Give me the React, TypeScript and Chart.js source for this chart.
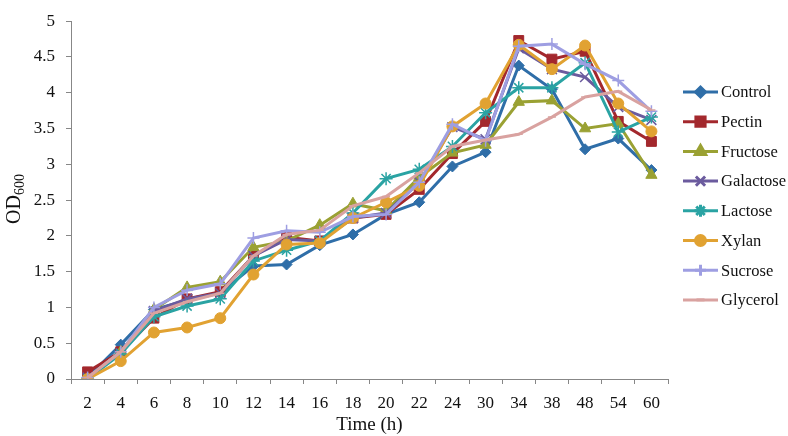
import { useEffect, useRef } from 'react';
import { Chart, registerables } from 'chart.js';
import { drawPoint } from 'chart.js/helpers';

Chart.register(...registerables);

const timeLabels = ['2', '4', '6', '8', '10', '12', '14', '16', '18', '20', '22', '24', '30', '34', '38', '48', '54', '60'];

const control = [0.02, 0.48, 0.97, 1.1, 1.2, 1.58, 1.6, 1.87, 2.02, 2.3, 2.47, 2.97, 3.17, 4.38, 4.05, 3.21, 3.36, 2.92];
const pectin = [0.1, 0.38, 0.85, 1.12, 1.22, 1.72, 1.98, 1.93, 2.25, 2.3, 2.65, 3.15, 3.6, 4.73, 4.47, 4.58, 3.6, 3.32];
const fructose = [0.0, 0.38, 0.97, 1.28, 1.36, 1.84, 1.93, 2.15, 2.45, 2.35, 2.82, 3.16, 3.27, 3.87, 3.89, 3.5, 3.57, 2.85];
const galactose = [0.02, 0.36, 0.95, 1.12, 1.2, 1.72, 1.95, 1.93, 2.25, 2.32, 2.75, 3.52, 3.35, 4.62, 4.33, 4.22, 3.8, 3.62];
const lactose = [0.0, 0.35, 0.87, 1.02, 1.12, 1.65, 1.8, 1.93, 2.32, 2.8, 2.93, 3.25, 3.72, 4.07, 4.07, 4.42, 3.45, 3.66];
const xylan = [0.0, 0.25, 0.65, 0.72, 0.85, 1.46, 1.88, 1.9, 2.25, 2.47, 2.7, 3.53, 3.85, 4.67, 4.33, 4.66, 3.85, 3.46];
const sucrose = [0.02, 0.38, 1.0, 1.24, 1.33, 1.97, 2.07, 2.05, 2.27, 2.3, 2.75, 3.56, 3.33, 4.65, 4.68, 4.4, 4.17, 3.74];
const glycerol = [0.02, 0.38, 0.92, 1.08, 1.2, 1.72, 2.02, 2.08, 2.42, 2.55, 2.88, 3.25, 3.34, 3.42, 3.66, 3.94, 4.02, 3.76];

const seriesNames = ['Control', 'Pectin', 'Fructose', 'Galactose', 'Lactose', 'Xylan', 'Sucrose', 'Glycerol'];
const seriesData = [control, pectin, fructose, galactose, lactose, xylan, sucrose, glycerol];
const seriesColors = ['#2F6EA8', '#A3282D', '#9AA133', '#6B5B9E', '#2AA3A3', '#E1A232', '#9E9EE2', '#D9A2A0'];
const seriesMarkers = ['rectRot', 'rect', 'triangle', 'crossRot', 'star', 'circle', 'cross', 'line'];
const seriesRadius = [5.5, 7, 6.5, 7, 6.5, 5.5, 6, 4];
const legendRadius = [5, 6.5, 6, 6.5, 6, 5, 5.5, 4];

const FONT = '"Liberation Serif", "Times New Roman", serif';
const FILLED = ['rectRot', 'rect', 'triangle', 'circle'];

const decorPlugin = {
  id: 'decor',
  afterDraw(chart: any) {
    const ctx = chart.ctx;
    const area = chart.chartArea;
    ctx.save();
    // Legend
    seriesNames.forEach((name, i) => {
      const y = 92 + i * 29.7;
      const color = seriesColors[i];
      ctx.strokeStyle = color;
      ctx.fillStyle = color;
      ctx.lineWidth = 3;
      ctx.beginPath();
      ctx.moveTo(683, y);
      ctx.lineTo(718, y);
      ctx.stroke();
      const filled = FILLED.includes(seriesMarkers[i]);
      drawPoint(ctx, {
        pointStyle: seriesMarkers[i],
        radius: legendRadius[i],
        borderWidth: filled ? 1 : 1.5,
        rotation: 0,
      }, 700.5, y);
      ctx.fillStyle = '#111';
      ctx.font = `16.5px ${FONT}`;
      ctx.textBaseline = 'middle';
      ctx.textAlign = 'left';
      ctx.fillText(name, 721, y + 1);
    });
    // X title
    ctx.fillStyle = '#111';
    ctx.font = `19px ${FONT}`;
    ctx.textAlign = 'center';
    ctx.textBaseline = 'middle';
    ctx.fillText('Time (h)', (area.left + area.right) / 2, 425);
    // Y title with subscript
    ctx.translate(0, 199);
    ctx.rotate(-Math.PI / 2);
    ctx.textAlign = 'left';
    ctx.textBaseline = 'alphabetic';
    ctx.font = `20px ${FONT}`;
    const w1 = ctx.measureText('OD').width;
    ctx.font = `14px ${FONT}`;
    const w2 = ctx.measureText('600').width;
    const start = -(w1 + w2) / 2;
    ctx.font = `20px ${FONT}`;
    ctx.fillText('OD', start, 20);
    ctx.font = `14px ${FONT}`;
    ctx.fillText('600', start + w1, 24);
    ctx.restore();
  },
};

export default function App() {
  const ref = useRef<HTMLCanvasElement | null>(null);
  useEffect(() => {
    if (!ref.current) return;
    const datasets = seriesNames.map((name, i) => {
      const filled = FILLED.includes(seriesMarkers[i]);
      return {
        label: name,
        data: seriesData[i],
        borderColor: seriesColors[i],
        backgroundColor: seriesColors[i],
        borderWidth: 3,
        tension: 0,
        pointStyle: seriesMarkers[i],
        pointRadius: seriesRadius[i],
        pointBackgroundColor: seriesColors[i],
        pointBorderColor: seriesColors[i],
        pointBorderWidth: filled ? 1 : 1.5,
        order: seriesNames.length - i,
        fill: false,
      };
    });
    const chart = new Chart(ref.current, {
      type: 'line',
      data: { labels: timeLabels, datasets },
      plugins: [decorPlugin],
      options: {
        animation: false,
        responsive: true,
        maintainAspectRatio: false,
        layout: { padding: { top: 6, right: 120, left: 0, bottom: 0 } },
        plugins: {
          legend: { display: false },
          tooltip: { enabled: false },
          title: { display: false },
        },
        scales: {
          x: {
            type: 'category',
            offset: true,
            grid: {
              offset: true,
              drawOnChartArea: false,
              drawTicks: true,
              tickLength: 5,
              color: '#878787',
            },
            border: { display: true, color: '#878787', width: 1 },
            ticks: {
              color: '#111',
              font: { family: FONT, size: 17 },
              padding: 9,
              maxRotation: 0,
              autoSkip: false,
            },
            afterFit: (s: any) => { s.height = 57; },
          },
          y: {
            min: 0,
            max: 5,
            grid: {
              drawOnChartArea: false,
              drawTicks: true,
              tickLength: 5,
              color: '#878787',
            },
            border: { display: true, color: '#878787', width: 1 },
            ticks: {
              stepSize: 0.5,
              color: '#111',
              font: { family: FONT, size: 17 },
              padding: 11,
              callback: (v: any) => String(Math.round(Number(v) * 10) / 10),
            },
            afterFit: (s: any) => { s.width = 71; },
          },
        },
      },
    });
    return () => chart.destroy();
  }, []);
  return (
    <div style={{ position: 'fixed', left: 0, top: 0, width: 788, height: 436, background: '#fff' }}>
      <canvas ref={ref} />
    </div>
  );
}
